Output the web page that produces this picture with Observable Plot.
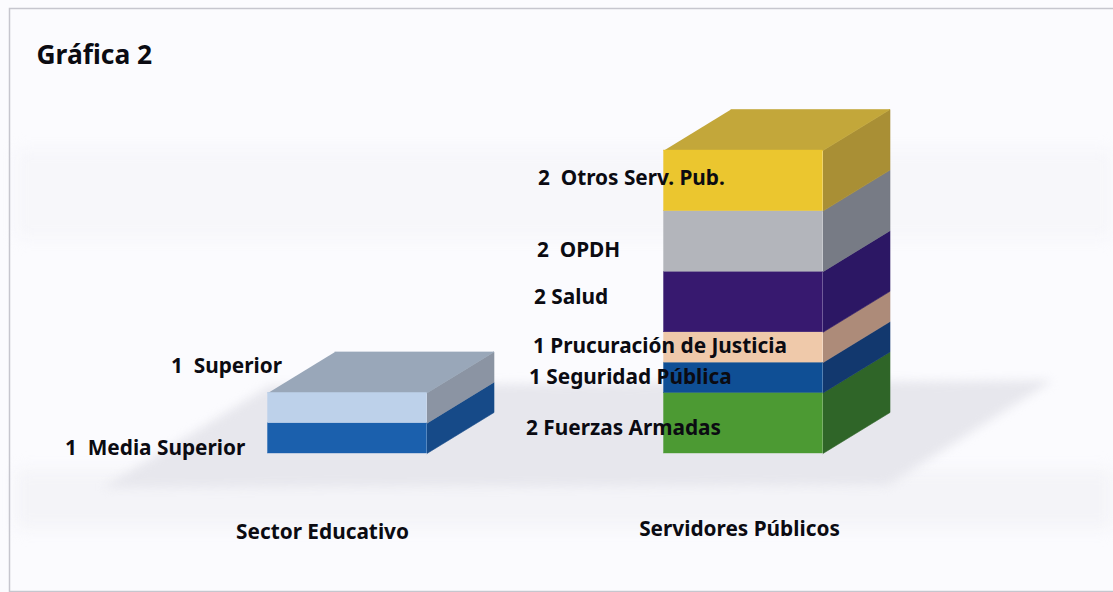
<!DOCTYPE html>
<html lang="es">
<head>
<meta charset="utf-8">
<title>Gráfica 2</title>
<script src="https://cdn.jsdelivr.net/npm/d3@7"></script>
<script src="https://cdn.jsdelivr.net/npm/@observablehq/plot@0.6"></script>
<style>
  html, body { margin: 0; padding: 0; background: #fbfbfe; }
  svg { display: block; }
</style>
</head>
<body>
<div id="chart"></div>
<script>
// ---- Data ----
const categories = ["Sector Educativo", "Servidores Públicos"];
const segmentCategory = [0, 0, 1, 1, 1, 1, 1, 1];
const segmentNames = ["Media Superior", "Superior", "Fuerzas Armadas", "Seguridad Pública", "Prucuración de Justicia", "Salud", "OPDH", "Otros Serv. Pub."];
const segmentValues = [1, 1, 2, 1, 1, 2, 2, 2];
const segmentLabels = ["1  Media Superior", "1  Superior", "2 Fuerzas Armadas", "1 Seguridad Pública", "1 Prucuración de Justicia", "2 Salud", "2  OPDH", "2  Otros Serv. Pub."];

// ---- Styles ----
const frontColors = ["#1b60ad", "#bdd1ea", "#4c9a33", "#0f4f95", "#efc9aa", "#37196f", "#b3b5bb", "#ebc62f"];
const sideColors  = ["#164a88", "#8b94a3", "#2f6528", "#12386e", "#ad8b79", "#2c1764", "#777b85", "#a98f35"];
const topColors   = ["", "#99a7b9", "", "", "", "", "", "#c3a73a"];

// ---- Layout (pixels) ----
const W = 1113, H = 592;
const baseY = 453, unitPx = 30.3, cat0X = 347, catStep = 396;
const barW = 159 / catStep, depthX = 67 / catStep, depthY = 41 / unitPx;
const labelDx = [-203, -97, -138, -135, -131, -130, -127, -126];
const labelDy = [10, -42, 5, 0, -1, -4.5, 9, -2];
const categoryLabelY = [-2.6, -2.5];
const categoryLabelDx = [-25, -4];
const xDomain = [-cat0X / catStep, (W - cat0X) / catStep];
const yDomain = [(baseY - H) / unitPx, baseY / unitPx];

// ---- Derived marks data ----
const totals = [0, 0];
const segments = segmentValues.map((v, i) => {
  const c = segmentCategory[i];
  const y1 = totals[c];
  totals[c] += v;
  return {
    c, name: segmentNames[i], label: segmentLabels[i],
    x1: c - barW / 2, x2: c + barW / 2, y1, y2: y1 + v,
    front: frontColors[i], side: sideColors[i], top: topColors[i],
    lx: c - barW / 2 + labelDx[i] / catStep,
    ly: y1 + v / 2 - labelDy[i] / unitPx
  };
});
const polys = [];
segments.forEach((s, i) => {
  [[s.x2, s.y1], [s.x2 + depthX, s.y1 + depthY], [s.x2 + depthX, s.y2 + depthY], [s.x2, s.y2]]
    .forEach(([x, y]) => polys.push({ id: "side" + i, x, y, fill: s.side }));
  if (s.top) {
    [[s.x1, s.y2], [s.x2, s.y2], [s.x2 + depthX, s.y2 + depthY], [s.x1 + depthX, s.y2 + depthY]]
      .forEach(([x, y]) => polys.push({ id: "top" + i, x, y, fill: s.top }));
  }
});

// Floor shadow, extended from the bars
const fl = -barW / 2, fr = 1 + barW / 2 + depthX;
const floor = [
  { x: fl - 0.415, y: -1.12 }, { x: fl + 0.005, y: depthY + 0.89 },
  { x: fr + 0.41, y: depthY + 1.06 }, { x: fr - 0.005, y: -1.06 }
];
const bands = [
  { y1: (baseY - 150) / unitPx, y2: (baseY - 238) / unitPx, o: 0.45 },
  { y1: (baseY - 470) / unitPx, y2: (baseY - 528) / unitPx, o: 0.75 }
];
const blur = (px) => (index, scales, values, dims, ctx, next) => {
  const g = next(index, scales, values, dims, ctx);
  g.style.filter = `blur(${px}px)`;
  return g;
};
const FONT = "'Noto Sans', sans-serif";

const chart = Plot.plot({
  width: W, height: H, margin: 0,
  style: { background: "#fbfbfe", fontFamily: FONT, overflow: "hidden" },
  x: { domain: xDomain, range: [0, W], axis: null },
  y: { domain: yDomain, range: [H, 0], axis: null },
  color: { type: "identity" },
  marks: [
    Plot.rect(bands, { x1: xDomain[0] + 16 / catStep, x2: xDomain[1], y1: "y1", y2: "y2", fill: "#f1f1f6", fillOpacity: "o", render: blur(8) }),
    Plot.line(floor.concat(floor[0]), { x: "x", y: "y", fill: "#e7e7ed", stroke: "none", render: blur(5) }),
    Plot.frame({ stroke: "#c6c6ce", strokeWidth: 1.5, insetLeft: 9, insetTop: 8, insetBottom: 1, insetRight: -3 }),
    Plot.line(polys, { x: "x", y: "y", z: "id", fill: "fill", stroke: "fill", strokeWidth: 0.6 }),
    Plot.rect(segments, { x1: "x1", x2: "x2", y1: "y1", y2: "y2", fill: "front", stroke: "front", strokeWidth: 0.4 }),
    Plot.text(segments, { x: "lx", y: "ly", text: "label", textAnchor: "start", lineAnchor: "middle", fontSize: 20.8, fontWeight: 700, fill: "#0b0b12" }),
    Plot.text(categories, { x: (d, i) => i + categoryLabelDx[i] / catStep, y: (d, i) => categoryLabelY[i], text: d => d, textAnchor: "middle", lineAnchor: "middle", fontSize: 20.8, fontWeight: 700, fill: "#0b0b12" }),
    Plot.text(["Gráfica 2"], { frameAnchor: "top-left", dx: 36, dy: 45, text: d => d, lineAnchor: "top", fontSize: 26.4, fontWeight: 700, fill: "#0b0b12" })
  ]
});
document.getElementById("chart").append(chart);
</script>
</body>
</html>
